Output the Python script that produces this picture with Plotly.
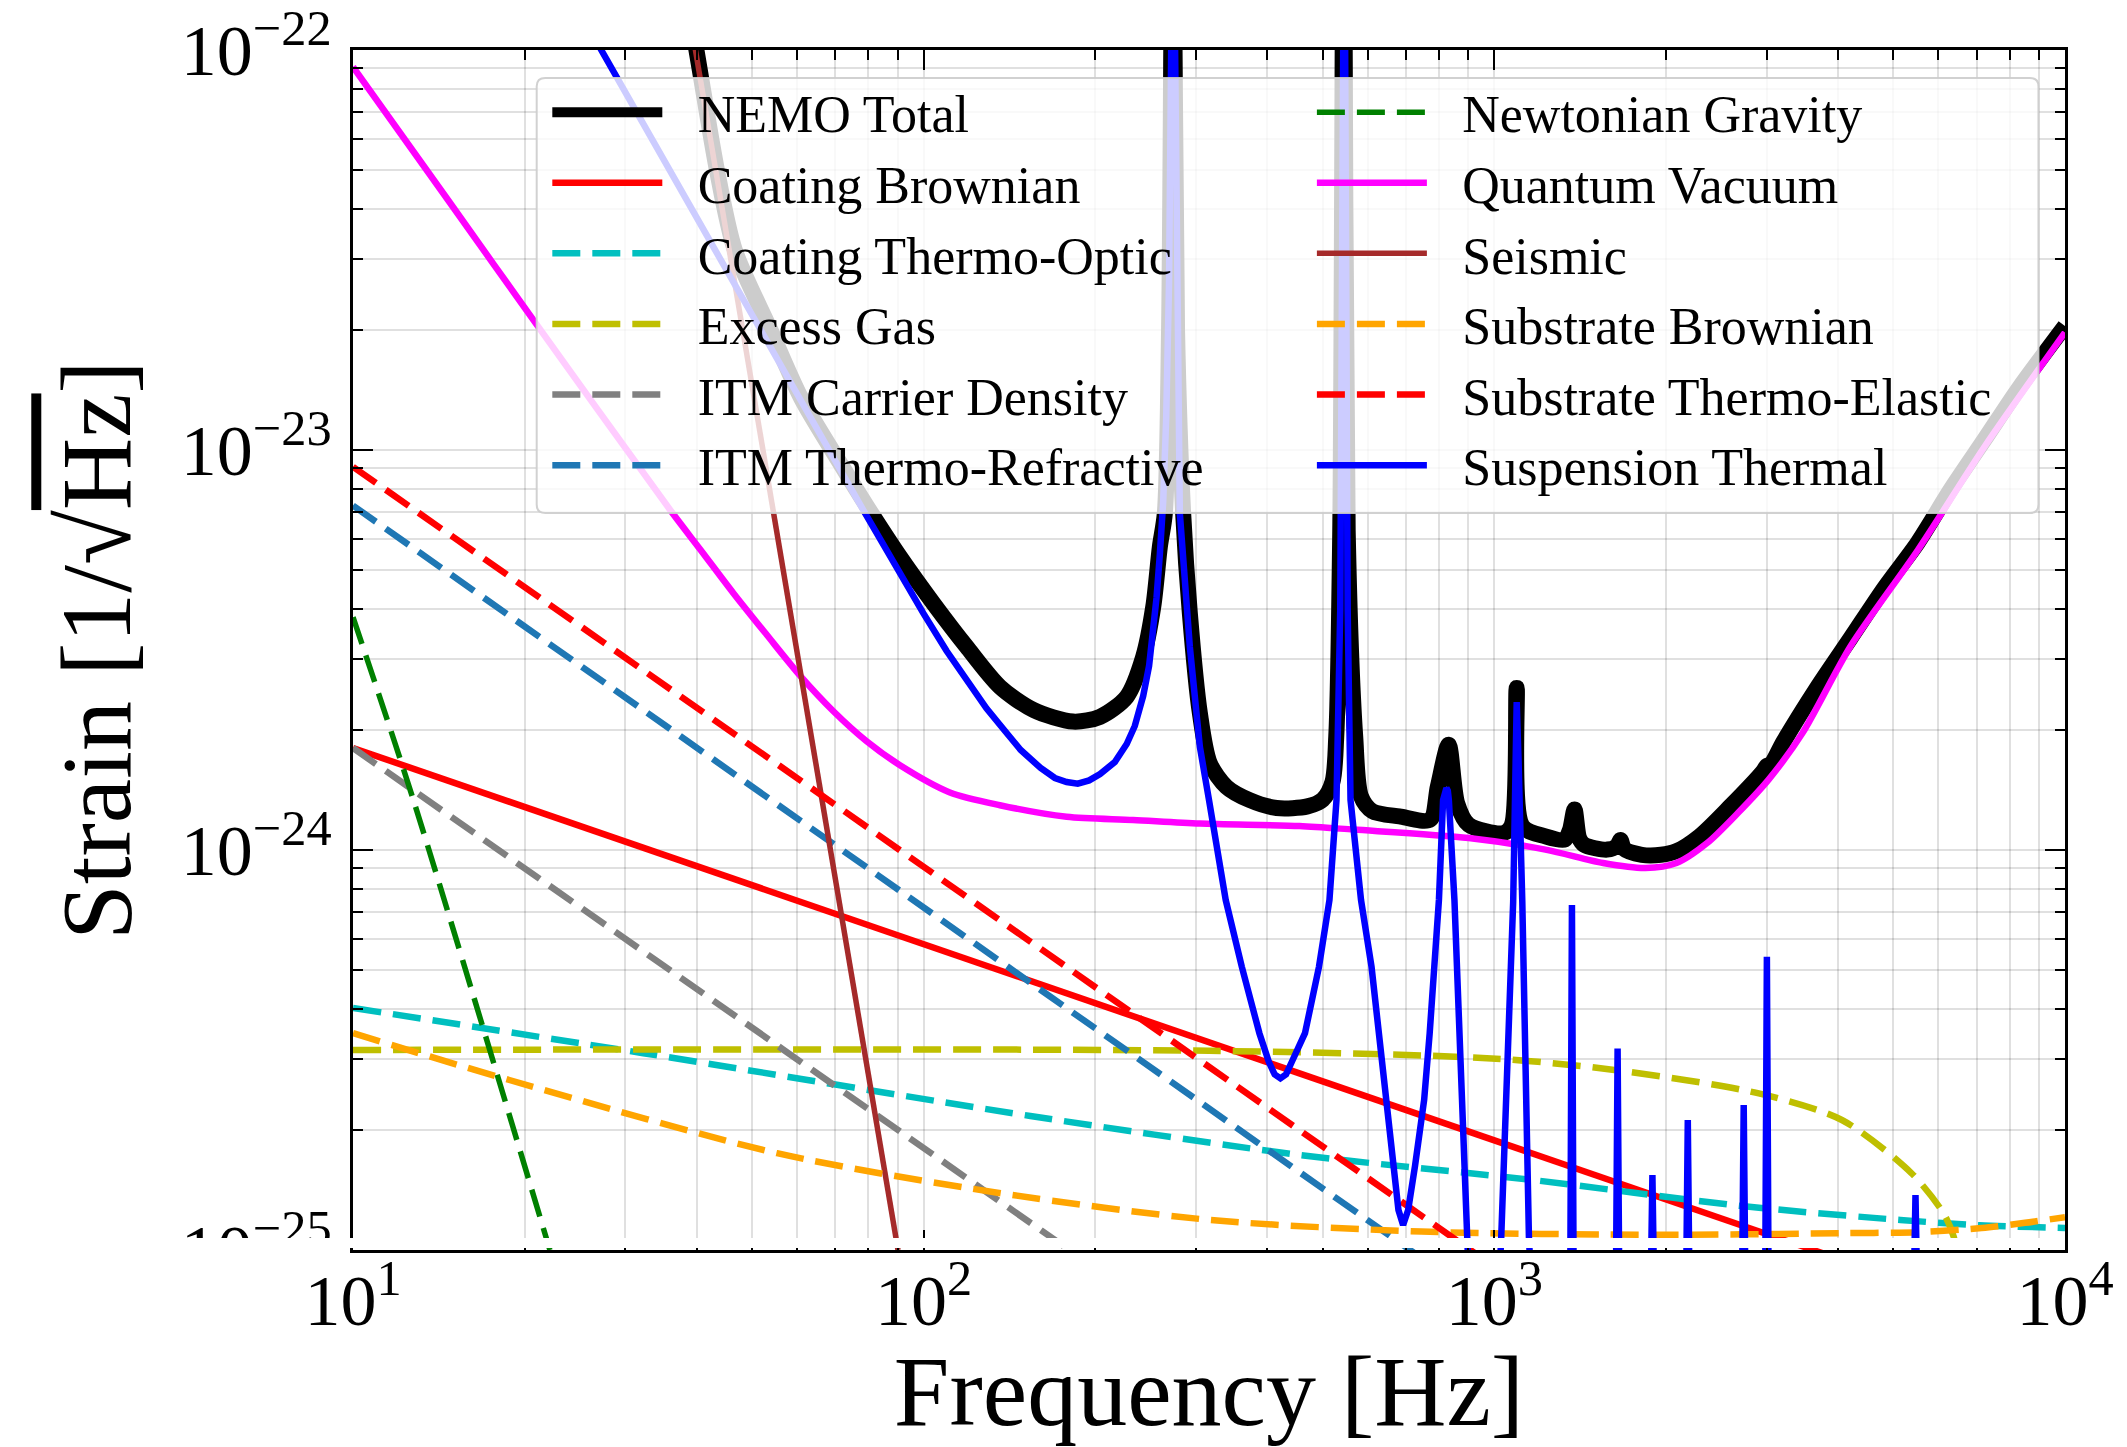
import numpy as np
import plotly.graph_objects as go

# Noise budget readings, stored as log10(frequency / Hz) and
# log10(strain / (1/sqrt(Hz))). Straight spectra on log-log axes need
# only their end points.

total_logf = [1.590, 1.6077, 1.6377, 1.669, 1.7316, 1.7852, 1.8566, 1.9002, 1.9585, 2.0168,
              2.0753, 2.1336, 2.1926, 2.2619, 2.3091, 2.3558, 2.3847, 2.4023, 2.4139, 2.4226,
              2.4300, 2.4370, 2.4440, 2.4547, 2.4664, 2.4840, 2.5013, 2.5305, 2.5709, 2.6185,
              2.6725, 2.6993, 2.7163, 2.7230, 2.7300, 2.7364, 2.7430, 2.7562, 2.7663, 2.7864,
              2.8337, 2.8876, 2.9011, 2.9199, 2.9348, 2.9550, 3.0155, 3.0300, 3.0392, 3.0490,
              3.0895, 3.1234, 3.1325, 3.1405, 3.1485, 3.1573, 3.1977, 3.2150, 3.2210, 3.2280,
              3.2584, 3.2920, 3.3191, 3.3594, 3.4133, 3.4700, 3.4775, 3.4850, 3.5069, 3.5657,
              3.6245, 3.6833, 3.7422, 3.8010, 3.8598, 3.9185, 4.0000]
total_logh = [-21.90, -22.05, -22.30, -22.50, -22.70, -22.87, -23.04, -23.14, -23.267, -23.383,
              -23.492, -23.592, -23.650, -23.679, -23.667, -23.617, -23.517, -23.392, -23.242, -23.158,
              -22.70, -21.50, -22.70, -23.158, -23.408, -23.658, -23.783, -23.842, -23.875, -23.895,
              -23.891, -23.874, -23.830, -23.716, -23.20, -21.50, -23.20, -23.716, -23.866, -23.903,
              -23.916, -23.924, -23.841, -23.737, -23.883, -23.937, -23.958, -23.940, -23.595, -23.940,
              -23.966, -23.974, -23.950, -23.899, -23.970, -23.987, -23.999, -23.990, -23.975, -23.998,
              -24.012, -24.012, -24.003, -23.966, -23.891, -23.805, -23.790, -23.785, -23.729, -23.594,
              -23.470, -23.345, -23.231, -23.096, -22.972, -22.847, -22.690]

coat_brown_logf = [1.0, 3.62]
coat_brown_logh = [-23.745, -25.03]

coat_to_logf = [1.0, 1.5087, 2.187, 2.6592, 3.0669, 3.4339, 3.7116, 3.850, 4.000]
coat_to_logh = [-24.395, -24.508, -24.665, -24.7625, -24.825, -24.890, -24.925, -24.938, -24.945]

gas_logf = [1.0, 2.5, 2.995, 3.200, 3.4616, 3.609, 3.731, 3.787, 3.805, 3.815]
gas_logh = [-24.500, -24.502, -24.521, -24.548, -24.608, -24.675, -24.808, -24.908, -24.967, -25.05]

carrier_logf = [1.0, 2.3]
carrier_logh = [-23.745, -25.045]

itm_tr_logf = [1.0, 2.9]
itm_tr_logh = [-23.139, -25.048]

newton_logf = [1.0, 1.1058, 1.345]
newton_logh = [-23.418, -23.875, -25.0]

quantum_logf = [1.0, 1.164, 1.3166, 1.5558, 1.6082, 1.6666, 1.725, 1.7834, 1.8418, 1.9000,
                1.9585, 2.0460, 2.1336, 2.2505, 2.3670, 2.4840, 2.6585, 2.7535, 2.9550, 3.0895,
                3.1907, 3.2648, 3.3191, 3.3729, 3.4268, 3.4806, 3.5400, 3.6245, 3.7422, 3.8598,
                4.0000]
quantum_logh = [-22.042, -22.370, -22.676, -23.150, -23.248, -23.358, -23.462, -23.564, -23.653, -23.728,
                -23.788, -23.856, -23.888, -23.917, -23.925, -23.934, -23.940, -23.949, -23.970, -23.999,
                -24.0325, -24.045, -24.0325, -23.9825, -23.9075, -23.824, -23.7075, -23.490, -23.250, -22.990,
                -22.706]

seismic_logf = [1.59, 1.955]
seismic_logh = [-21.915, -25.0]

sub_brown_logf = [1.0, 1.274, 1.743, 2.135, 2.503, 2.872, 3.300, 3.609, 3.750, 3.854, 3.930, 4.000]
sub_brown_logh = [-24.458, -24.575, -24.758, -24.858, -24.925, -24.954, -24.962, -24.958, -24.955, -24.945,
                  -24.932, -24.918]

sub_te_logf = [1.0, 3.0]
sub_te_logh = [-23.042, -25.042]

susp_logf = [1.420, 1.435, 1.8973, 1.9500, 1.9993, 2.0400, 2.0753, 2.1100, 2.1400, 2.1700,
             2.2050, 2.2300, 2.2505, 2.2700, 2.2900, 2.3091, 2.3350, 2.3558, 2.3700, 2.3847,
             2.3950, 2.4023, 2.4080, 2.4139, 2.4197, 2.4250, 2.4300, 2.4370,
             2.4440, 2.4489, 2.4664, 2.4840, 2.5000, 2.5072, 2.5293, 2.5575, 2.5883, 2.6050,
             2.6150, 2.6251, 2.6350, 2.6450, 2.6682, 2.6927, 2.7111, 2.7234, 2.7300, 2.7370,
             2.7430, 2.7480, 2.7664, 2.7848, 2.7970, 2.8093, 2.8216, 2.8320, 2.8401, 2.8490,
             2.8610, 2.8770, 2.8867, 2.8955, 2.9029, 2.9102, 2.9135, 2.9160, 2.9185, 2.9203,
             2.9301, 2.9387, 2.9473, 2.9560, 3.0080, 3.0121, 3.0330, 3.0365, 3.0392, 3.0425,
             3.0490, 3.0606, 3.0650, 3.1330, 3.1360, 3.1390, 3.2130, 3.2160, 3.2190, 3.2740,
             3.2770, 3.2800, 3.3360, 3.3390, 3.3420, 3.4340, 3.4370, 3.4400, 3.4746, 3.4776,
             3.4806, 3.7350, 3.7380, 3.7410]
susp_logh = [-21.96, -22.00, -23.158, -23.290, -23.408, -23.502, -23.578, -23.646, -23.698, -23.750,
             -23.795, -23.820, -23.830, -23.834, -23.826, -23.810, -23.780, -23.735, -23.690, -23.615,
             -23.540, -23.460, -23.370, -23.260, -23.130, -22.920, -22.580, -21.50,
             -22.60, -23.158, -23.492, -23.742, -23.875, -23.940, -24.125, -24.292, -24.458, -24.530,
             -24.561, -24.571, -24.561, -24.530, -24.458, -24.292, -24.125, -23.875, -23.40, -21.50,
             -23.40, -23.875, -24.125, -24.292, -24.458, -24.625, -24.790, -24.900, -24.9375, -24.900,
             -24.790, -24.625, -24.458, -24.292, -24.125, -23.875, -23.852, -23.845, -23.852, -23.875,
             -24.125, -24.458, -24.790, -25.10, -25.10, -24.967, -24.130, -23.780, -23.630, -23.780,
             -24.130, -24.967, -25.10, -25.10, -24.1375, -25.10, -25.10, -24.496, -25.10, -25.10,
             -24.8125, -25.10, -25.10, -24.675, -25.10, -25.10, -24.6375, -25.10, -25.10, -24.267,
             -25.10, -25.10, -24.8625, -25.10]

FONT = "Liberation Serif"
DASH = "28px,12px"
GAP = "\u2002\u200a"  # space between a legend line and its label

# (name, log f, log h, colour, width, dash, curved, legend column)
series = [
    ("NEMO Total", total_logf, total_logh, "#000000", 16, "solid", True, "legend"),
    ("Coating Brownian", coat_brown_logf, coat_brown_logh, "#ff0000", 6.5, "solid", False, "legend"),
    ("Coating Thermo-Optic", coat_to_logf, coat_to_logh, "#00bfbf", 6.5, DASH, True, "legend"),
    ("Excess Gas", gas_logf, gas_logh, "#bfbf00", 6.5, DASH, True, "legend"),
    ("ITM Carrier Density", carrier_logf, carrier_logh, "#808080", 6.5, DASH, False, "legend"),
    ("ITM Thermo-Refractive", itm_tr_logf, itm_tr_logh, "#1f77b4", 6.5, DASH, False, "legend"),
    ("Newtonian Gravity", newton_logf, newton_logh, "#008000", 5.5, DASH, True, "legend2"),
    ("Quantum Vacuum", quantum_logf, quantum_logh, "#ff00ff", 6.5, "solid", True, "legend2"),
    ("Seismic", seismic_logf, seismic_logh, "#a52a2a", 5.5, "solid", False, "legend2"),
    ("Substrate Brownian", sub_brown_logf, sub_brown_logh, "#ffa500", 6.5, DASH, True, "legend2"),
    ("Substrate Thermo-Elastic", sub_te_logf, sub_te_logh, "#ff0000", 6.5, DASH, False, "legend2"),
    ("Suspension Thermal", susp_logf, susp_logh, "#0000ff", 6.5, "solid", False, "legend2"),
]

fig = go.Figure()
for name, lf, lh, color, width, dash, curved, legend in series:
    line = dict(color=color, width=width, dash=dash)
    if curved:
        line.update(shape="spline", smoothing=0.8)
    fig.add_trace(go.Scatter(
        x=np.power(10.0, np.asarray(lf)),
        y=np.power(10.0, np.asarray(lh)),
        mode="lines",
        name=GAP + name,
        line=line,
        legend=legend,
    ))

x_major = [10, 100, 1000, 10000]
x_labels = ["10<sup>1</sup>", "10<sup>2</sup>", "10<sup>3</sup>", "10<sup>4</sup>"]
y_major = [1e-25, 1e-24, 1e-23, 1e-22]
y_labels = ["10<sup>\u221225</sup>", "10<sup>\u221224</sup>", "10<sup>\u221223</sup>", "10<sup>\u221222</sup>"]

x_minor = [k * d for d in (10, 100, 1000) for k in range(2, 10)]
y_minor = [k * d for d in (1e-25, 1e-24, 1e-23) for k in range(2, 10)]

GRID = "rgba(0,0,0,0.12)"

axis_common = dict(
    type="log",
    automargin=False,
    showline=True, linecolor="black", linewidth=3, mirror="ticks",
    ticks="inside", ticklen=20, tickwidth=2, tickcolor="black",
    showgrid=True, gridcolor=GRID, gridwidth=2,
    zeroline=False,
    ticklabeloverflow="allow",
    tickfont=dict(family=FONT, size=72, color="black"),
)

fig.update_xaxes(
    **axis_common,
    range=[1, 4],
    tickmode="array", tickvals=x_major, ticktext=x_labels,
    minor=dict(tickmode="array", tickvals=x_minor, ticks="inside", ticklen=10,
               tickwidth=2, tickcolor="black", showgrid=True, gridcolor=GRID, gridwidth=2),
    ticklabelstandoff=-14,
    title=dict(text="Frequency [Hz]", font=dict(family=FONT, size=100, color="black"), standoff=20),
)
fig.update_yaxes(
    **axis_common,
    range=[-25, -22],
    tickmode="array", tickvals=y_major, ticktext=y_labels,
    minor=dict(tickmode="array", tickvals=y_minor, ticks="inside", ticklen=10,
               tickwidth=2, tickcolor="black", showgrid=True, gridcolor=GRID, gridwidth=2),
    ticklabelstandoff=4,
    title=dict(text="Strain [1/\u221a<span style='text-decoration:overline'>Hz</span>]",
               font=dict(family=FONT, size=100, color="black"), standoff=17),
)

legend_style = dict(
    xanchor="left", yanchor="top", bgcolor="rgba(0,0,0,0)", borderwidth=0,
    font=dict(family=FONT, size=52, color="black"), itemwidth=110, tracegroupgap=0,
)

# Rounded, translucent frame shared by both legend columns
bx0, bx1, by0, by1 = 0.1073, 0.9845, 0.6142, 0.9767
rx, ry = 0.005, 0.007
frame_path = (
    f"M{bx0 + rx},{by0} L{bx1 - rx},{by0} Q{bx1},{by0} {bx1},{by0 + ry} "
    f"L{bx1},{by1 - ry} Q{bx1},{by1} {bx1 - rx},{by1} "
    f"L{bx0 + rx},{by1} Q{bx0},{by1} {bx0},{by1 - ry} "
    f"L{bx0},{by0 + ry} Q{bx0},{by0} {bx0 + rx},{by0} Z"
)

fig.update_layout(
    width=2127, height=1447,
    margin=dict(l=353, r=62, t=50, b=197),
    paper_bgcolor="white", plot_bgcolor="white",
    font=dict(family=FONT, color="black"),
    legend=dict(x=0.1135, y=0.9818, **legend_style),
    legend2=dict(x=0.5601, y=0.9818, **legend_style),
    shapes=[
        dict(type="path", xref="paper", yref="paper", path=frame_path, layer="above",
             fillcolor="rgba(255,255,255,0.8)", line=dict(color="rgba(204,204,204,0.9)", width=2)),
        # trimmed strip along the bottom of the frame
        dict(type="rect", xref="paper", yref="paper", x0=-0.0273, x1=0.9985, y0=0.0017, y1=0.01,
             layer="above", fillcolor="white", line=dict(width=0)),
        dict(type="rect", xref="paper", yref="paper", x0=-0.2, x1=-0.0273, y0=-0.0333, y1=0.01,
             layer="above", fillcolor="white", line=dict(width=0)),
    ],
)

fig.write_html("out.html")
